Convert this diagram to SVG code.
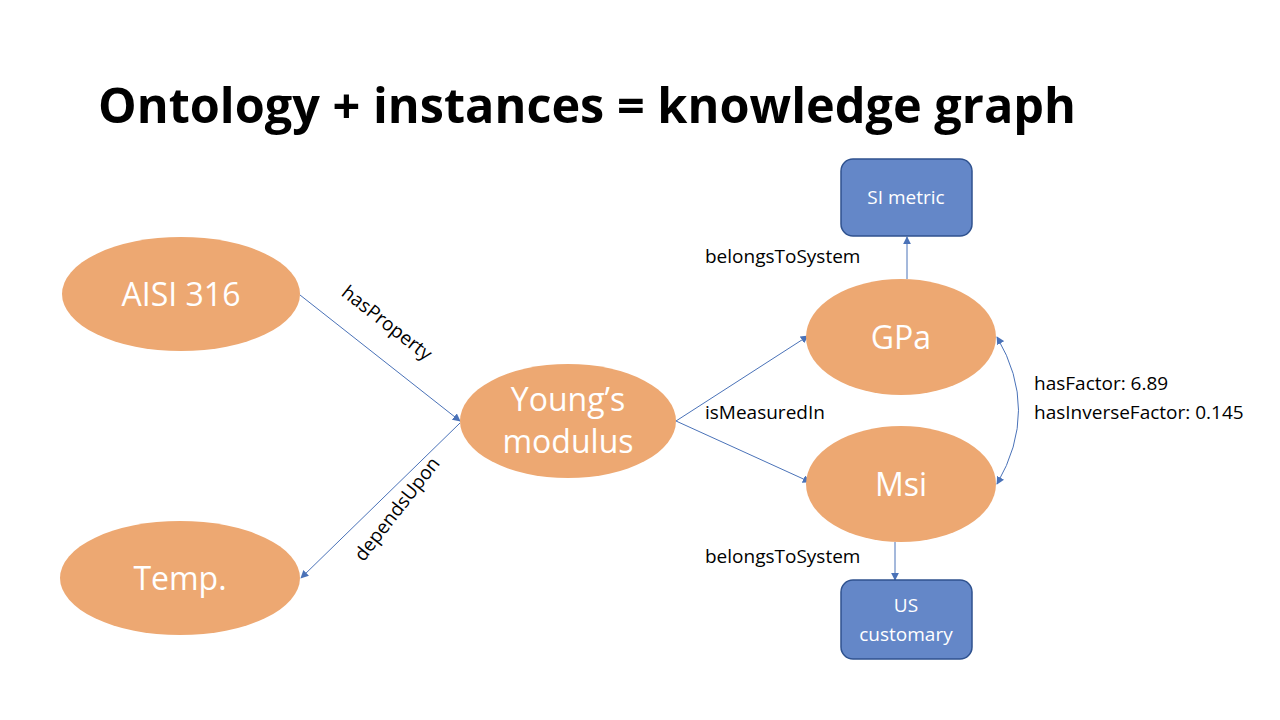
<svg xmlns="http://www.w3.org/2000/svg" width="1280" height="720" viewBox="0 0 1280 720">
<defs>
<style>
.ell{fill:#eda872}
.box{fill:#6487c8;stroke:#2f528f;stroke-width:1.5}
.nt{font-family:"Open Sans",sans-serif;fill:#fff;text-anchor:middle}
.lbl{font-family:"Open Sans",sans-serif;font-size:19px;fill:#000}
.ln{stroke:#4a72b8;stroke-width:1;fill:none}
</style>
<marker id="ah" viewBox="0 0 10 10" refX="9" refY="5" markerWidth="8" markerHeight="8" orient="auto-start-reverse" markerUnits="userSpaceOnUse"><path d="M0,0 L10,5 L0,10 z" fill="#4a72b8"/></marker>
</defs>
<rect width="1280" height="720" fill="#fff"/>
<text x="98" y="123" font-family="Open Sans,sans-serif" font-weight="bold" font-size="48" textLength="978" lengthAdjust="spacingAndGlyphs">Ontology + instances = knowledge graph</text>
<g id="connectors">
<line class="ln" x1="300" y1="295" x2="460" y2="421" marker-end="url(#ah)"/>
<line class="ln" x1="460" y1="423" x2="301" y2="578" marker-end="url(#ah)"/>
<line class="ln" x1="676" y1="421" x2="808" y2="336" marker-end="url(#ah)"/>
<line class="ln" x1="676" y1="421" x2="810" y2="482" marker-end="url(#ah)"/>
<line class="ln" x1="907" y1="279" x2="907" y2="237" marker-end="url(#ah)"/>
<line class="ln" x1="895" y1="542" x2="895" y2="580" marker-end="url(#ah)"/>
<path class="ln" d="M997,337 Q1040,410 997,484" marker-start="url(#ah)" marker-end="url(#ah)"/>
<text class="lbl" transform="translate(383,328) rotate(38)" text-anchor="middle">hasProperty</text>
<text class="lbl" transform="translate(402,513) rotate(-52)" text-anchor="middle">dependsUpon</text>
<text class="lbl" x="705" y="419">isMeasuredIn</text>
<text class="lbl" x="705" y="263">belongsToSystem</text>
<text class="lbl" x="705" y="563">belongsToSystem</text>
<text class="lbl" x="1034" y="390">hasFactor: 6.89</text>
<text class="lbl" x="1034" y="419">hasInverseFactor: 0.145</text>
</g>
<g id="aisi"><ellipse class="ell" cx="181" cy="294" rx="119" ry="57"/><text class="nt" x="181" y="306" font-size="32">AISI 316</text></g>
<g id="temp"><ellipse class="ell" cx="180" cy="578" rx="120" ry="57"/><text class="nt" x="180" y="590" font-size="32">Temp.</text></g>
<g id="young"><ellipse class="ell" cx="568" cy="421" rx="108" ry="57"/><text class="nt" x="568" y="411" font-size="32">Young’s</text><text class="nt" x="568" y="453" font-size="32">modulus</text></g>
<g id="gpa"><ellipse class="ell" cx="901" cy="337" rx="95" ry="58"/><text class="nt" x="901" y="349" font-size="32">GPa</text></g>
<g id="msi"><ellipse class="ell" cx="901" cy="484" rx="95" ry="58"/><text class="nt" x="901" y="496" font-size="32">Msi</text></g>
<g id="si"><rect class="box" x="841" y="159" width="131" height="77" rx="12"/><text class="nt" x="906" y="204" font-size="19">SI metric</text></g>
<g id="us"><rect class="box" x="841" y="580" width="131" height="79" rx="12"/><text class="nt" x="906" y="612" font-size="19">US</text><text class="nt" x="906" y="641" font-size="19">customary</text></g>
</svg>
